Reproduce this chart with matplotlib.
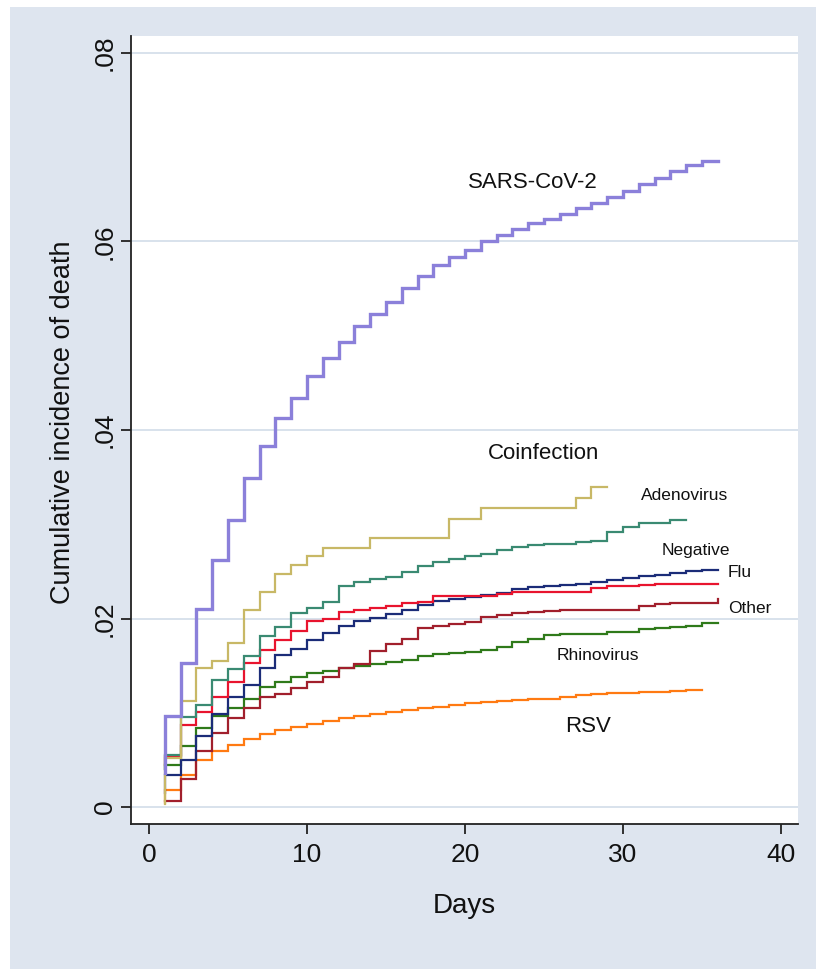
import numpy as np
import matplotlib
matplotlib.use("Agg")
import matplotlib.pyplot as plt
from matplotlib.patches import Rectangle

plt.rcParams['font.family'] = ['Liberation Sans', 'DejaVu Sans']

# ---- data (cumulative incidence after each daily step, day 1 onward) ----
sars_start = 0.0036
sars = [.0097, .0153, .0210, .0262, .0305, .0349, .0383, .0413, .0434, .0457,
        .0476, .0493, .0510, .0523, .0536, .0551, .0563, .0575, .0584, .0591,
        .0601, .0607, .0613, .0620, .0624, .0629, .0636, .0641, .0647, .0654,
        .0661, .0667, .0675, .0681, .0685]
sars_end = 36

coinf_start = 0.0003
coinf = [.0052, .0112, .0147, .0155, .0174, .0209, .0228, .0247, .0257, .0266,
         .0275, .0275, .0275, .0285, .0285, .0285, .0285, .0285, .0306, .0306,
         .0317, .0317, .0317, .0317, .0317, .0317, .0328, .0340]
coinf_end = 29

adeno_start = 0.0040
adeno = [.0055, .0095, .0108, .0135, .0146, .0160, .0181, .0191, .0206, .0211,
         .0217, .0234, .0239, .0242, .0244, .0249, .0256, .0260, .0263, .0266,
         .0268, .0273, .0276, .0278, .0279, .0279, .0281, .0282, .0292, .0297,
         .0301, .0301, .0305]
adeno_end = 34

neg_start = 0.0045
neg = [.0054, .0087, .0101, .0117, .0133, .0153, .0167, .0177, .0187, .0197,
       .0200, .0207, .0209, .0211, .0213, .0216, .0218, .0224, .0224, .0224,
       .0224, .0226, .0228, .0228, .0228, .0228, .0228, .0232, .0234, .0234,
       .0236, .0237, .0237, .0237, .0237]
neg_end = 36

flu_start = 0.0015
flu = [.0034, .0050, .0075, .0099, .0117, .0129, .0147, .0161, .0168, .0177,
       .0185, .0192, .0197, .0201, .0205, .0209, .0214, .0219, .0221, .0223,
       .0225, .0227, .0231, .0233, .0234, .0236, .0237, .0239, .0241, .0243,
       .0245, .0246, .0248, .0250, .0252]
flu_end = 36

other_start = 0.0006
other = [.0006, .0030, .0059, .0079, .0094, .0105, .0117, .0120, .0126, .0133,
         .0138, .0148, .0152, .0166, .0173, .0178, .0190, .0192, .0194, .0196,
         .0202, .0204, .0206, .0207, .0208, .0209, .0209, .0209, .0209, .0209,
         .0213, .0215, .0216, .0216, .0216, .0221]
other_end = 36

rhino_start = 0.0040
rhino = [.0045, .0065, .0084, .0097, .0105, .0115, .0127, .0133, .0138, .0142,
         .0144, .0148, .0150, .0152, .0154, .0156, .0160, .0162, .0163, .0165,
         .0167, .0170, .0175, .0178, .0182, .0184, .0184, .0184, .0186, .0186,
         .0189, .0190, .0191, .0192, .0195]
rhino_end = 36

rsv_start = 0.0004
rsv = [.0018, .0034, .0050, .0059, .0066, .0072, .0078, .0082, .0085, .0088,
       .0091, .0094, .0097, .0099, .0101, .0103, .0105, .0106, .0108, .0110,
       .0111, .0112, .0114, .0115, .0115, .0117, .0119, .0120, .0121, .0121,
       .0122, .0122, .0123, .0124]
rsv_end = 35

y_ticks = [0, .02, .04, .06, .08]
y_ticklabels = ['0', '.02', '.04', '.06', '.08']
x_ticks = [0, 10, 20, 30, 40]
x_ticklabels = ['0', '10', '20', '30', '40']

# label texts and anchor positions (day, value)
labels = ['SARS-CoV-2', 'Coinfection', 'Adenovirus', 'Negative', 'Flu', 'Other', 'Rhinovirus', 'RSV']
label_x = [24.3, 25.0, 33.9, 34.6, 37.4, 38.0, 28.4, 27.8]
label_y = [.0663, .0375, .0331, .0272, .0249, .0211, .0161, .0085]
label_size = [16, 16, 12.5, 12.5, 12.5, 12.5, 12.5, 16]

BG = '#DEE5EF'

fig = plt.figure(figsize=(8.16, 9.69), dpi=100)
fig.patch.set_facecolor('white')
fig.patches.append(Rectangle((10 / 816, 0), 1, 1 - 7 / 969, transform=fig.transFigure,
                             facecolor=BG, edgecolor='none', zorder=-10))

ax = fig.add_axes([131 / 816, (969 - 824) / 969, (798 - 131) / 816, (824 - 36) / 969])
ax.set_facecolor('white')


def stairs(start, vals, end):
    xs = [1] + list(range(1, len(vals) + 1)) + [end]
    ys = [start] + list(vals) + [vals[-1]]
    return xs, ys


series = [
    (rsv_start, rsv, rsv_end, '#FF7A12', 1.6),
    (rhino_start, rhino, rhino_end, '#2F7A1A', 1.6),
    (other_start, other, other_end, '#A11F2C', 1.6),
    (flu_start, flu, flu_end, '#1B2C78', 1.6),
    (neg_start, neg, neg_end, '#E8142E', 1.6),
    (adeno_start, adeno, adeno_end, '#3A8A72', 1.6),
    (coinf_start, coinf, coinf_end, '#C8B866', 1.6),
    (sars_start, sars, sars_end, '#8B80DA', 2.4),
]
for st, v, e, c, lw in series:
    xs, ys = stairs(st, v, e)
    ax.plot(xs, ys, drawstyle='steps-post', color=c, lw=lw, solid_joinstyle='miter', zorder=3)

for t, x, y, s in zip(labels, label_x, label_y, label_size):
    ax.text(x, y, t, ha='center', va='center', fontsize=s, color='#111111', zorder=4)

ax.set_xlim(-1.14, 41.08)
ax.set_ylim(-0.0018, 0.0818)
ax.set_yticks(y_ticks)
ax.set_yticklabels(y_ticklabels)
ax.set_xticks(x_ticks)
ax.set_xticklabels(x_ticklabels)
ax.yaxis.grid(True, color='#D5DFEB', lw=1.3)
ax.set_axisbelow(True)

for s in ['top', 'right']:
    ax.spines[s].set_visible(False)
for s in ['left', 'bottom']:
    ax.spines[s].set_color('#222222')
    ax.spines[s].set_linewidth(1.3)

ax.tick_params(axis='both', direction='out', length=7, width=1.3, color='#222222',
               labelsize=19, labelcolor='#111111')
ax.tick_params(axis='y', labelrotation=90, pad=3)
ax.tick_params(axis='x', pad=7)
for lab in ax.get_yticklabels():
    lab.set_va('center')
    lab.set_ha('right')

ax.set_xlabel('Days', fontsize=20, color='#111111')
ax.xaxis.set_label_coords(0.5, -0.104)
ax.xaxis.label.set_va('center')
ax.set_ylabel('Cumulative incidence of death', fontsize=19.5, color='#111111')
ax.yaxis.set_label_coords(-0.102, 0.51)
ax.yaxis.label.set_va('center')

fig.savefig('out.png', dpi=100, facecolor=fig.get_facecolor())
